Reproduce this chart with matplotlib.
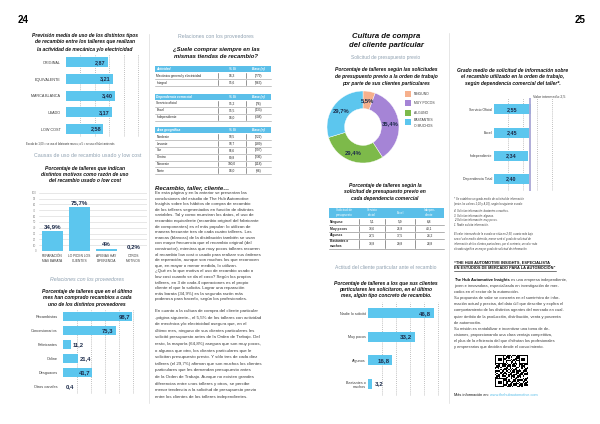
import matplotlib.pyplot as plt
import numpy as np
from matplotlib.patches import Rectangle

plt.rcParams["font.family"] = ["Liberation Sans", "DejaVu Sans"]

W, H = 600, 424
BLUE = "#5cc6ee"
NAVY = "#1c2b4a"
SUB = "#8fa1b1"
HEAD = "#5bbfe9"
TXT = "#3a3a3a"
GRID = "#9a9a9a"

# --- página 24: datos ---
tipos = ["ORIGINAL", "EQUIVALENTE", "MARCA BLANCA", "USADO", "LOW COST"]
tipos_media = [2.87, 3.21, 3.40, 3.17, 2.58]

motivos = ["REPARACIÓN\nMÁS BARATA", "LO PIDEN LOS\nCLIENTES",
           "APENAS HAY\nDIFERENCIA", "OTROS\nMOTIVOS"]
motivos_pct = [34.9, 75.7, 4.0, 0.2]

canales = ["Recambistas", "Concesionarios", "Fabricantes", "Online",
           "Desguaces", "Otros canales"]
canales_pct = [98.7, 75.3, 11.2, 21.4, 41.7, 0.4]

act_rows = ["Mecánica general y electricidad", "Integral"]
act_si = [94.3, 95.6]
act_n = [779, 363]
dep_rows = ["Servicio oficial", "Excel", "Independiente"]
dep_si = [95.2, 95.5, 94.0]
dep_n = [76, 433, 608]
area_rows = ["Nordeste", "Levante", "Sur", "Centro", "Noroeste", "Norte"]
area_si = [98.5, 93.7, 96.6, 89.8, 100.0, 94.0]
area_n = [222, 189, 297, 236, 118, 96]

# --- página 25: datos ---
solicitud = ["NINGUNO", "MUY POCOS", "ALGUNO", "BASTANTES\nO MUCHOS"]
solicitud_pct = [5.5, 35.4, 29.4, 29.7]
solicitud_col = ["#f6b08c", "#a584d6", "#7dba4a", BLUE]

tabla_cols = ["Solicitud de\npresupuesto", "Servicio\noficial", "Excel", "Indepen-\ndiente"]
tabla_rows = ["Ninguno", "Muy pocos", "Algunos", "Bastantes o\nmuchos"]
tabla_oficial = [5.1, 33.6, 27.5, 33.8]
tabla_excel = [5.9, 26.8, 37.5, 29.8]
tabla_indep = [6.8, 40.1, 24.2, 28.8]

actitud = ["Nadie lo solicitó", "Muy pocos", "Algunos", "Bastantes o\nmuchos"]
actitud_pct = [46.8, 33.2, 16.8, 3.2]

grado = ["Servicio Oficial", "Excel", "Independiente", "Dependencia Total"]
grado_media = [2.55, 2.45, 2.34, 2.40]
VALOR_MEDIO = 2.5

fig = plt.figure(figsize=(6, 4.24), dpi=100)
pg = fig.add_axes([0, 0, 1, 1])
pg.set_xlim(0, W)
pg.set_ylim(H, 0)
pg.axis("off")


def coma(v, dec=1):
    return f"{v:.{dec}f}".replace(".", ",")


def box_axes(x0, y0, x1, y1):
    ax = fig.add_axes([x0 / W, 1 - y1 / H, (x1 - x0) / W, (y1 - y0) / H])
    ax.patch.set_alpha(0)
    for s in ax.spines.values():
        s.set_visible(False)
    return ax


def lineas(x, y0, step, textos, **kw):
    kw.setdefault("va", "center")
    for i, s in enumerate(textos):
        pg.text(x, y0 + i * step, s, **kw)


def titulo(x, y0, step, textos, fs=3.6):
    lineas(x, y0, step, textos, ha="center", fontsize=fs,
           fontweight="bold", style="italic", color="#111")


def hbar(box, cats, vals, xmax, ticks, bar_h, pad, modo, dec=1,
         cat_fs=2.9, val_fs=4.2):
    ax = box_axes(*box)
    y = np.arange(len(cats))
    ax.barh(y, vals, height=bar_h, color=BLUE, zorder=3)
    ax.set_xlim(0, xmax)
    ax.set_ylim(len(cats) - 0.5, -0.5)
    for t in ticks:
        ax.axvline(t, color=GRID, lw=0.5, ls=(0, (1.2, 1.8)), zorder=1)
    ax.set_xticks([])
    ax.set_yticks(y, cats, fontsize=cat_fs, color=TXT)
    ax.tick_params(axis="y", length=0, pad=pad)
    for i, v in enumerate(vals):
        m = modo(v)
        kw = dict(textcoords="offset points", va="center", fontsize=val_fs,
                  fontweight="bold", color=NAVY, zorder=4)
        if m == "in":
            ax.annotate(coma(v, dec), (v, i), xytext=(-1.5, 0), ha="right", **kw)
        elif m == "out":
            ax.annotate(coma(v, dec), (v, i), xytext=(1.5, 0), ha="left", **kw)
        else:
            ax.annotate(coma(v, dec), (v / 2, i), xytext=(0, 0), ha="center", **kw)
    return ax


# ================= PÁGINA 24 =================
pg.text(18, 20, "24", fontsize=7, fontweight="bold", va="center")

titulo(85, 35, 7, ["Previsión media de uso de los distintos tipos",
                   "de recambio entre los talleres que realizan",
                   "la actividad de mecánica y/o electricidad"])
hbar((66, 54, 147, 137.4), tipos, tipos_media, 5.59, [1, 2, 3, 4, 5],
     0.6, 4, lambda v: "in", dec=2, cat_fs=2.7, val_fs=4.0)
pg.text(26, 144, "Escala de 1,00 = se usa el fabricante menos; a 5 = se usa el fabricante más",
        fontsize=1.9, color=TXT, va="center")

pg.text(88, 155, "Causas de uso de recambio usado y low cost", fontsize=3.8,
        color=SUB, ha="center", va="center")
titulo(85, 168.3, 6.2, ["Porcentaje de talleres que indican",
                        "distintos motivos como razón de uso",
                        "del recambio usado o low cost"])

ax2 = box_axes(39, 192.7, 147, 251)
xm = np.arange(len(motivos))
ax2.bar(xm, motivos_pct, width=0.78, color=BLUE, zorder=3)
ax2.set_xlim(-0.5, len(motivos) - 0.5)
ax2.set_ylim(0, 100)
ax2.set_yticks(range(0, 101, 10))
ax2.yaxis.grid(True, color="#d4d4d4", lw=0.4)
ax2.set_axisbelow(True)
ax2.tick_params(axis="y", length=0, pad=2, labelsize=2.0, labelcolor="#888")
ax2.set_xticks(xm, motivos, fontsize=2.3, color=TXT, linespacing=1.4)
ax2.tick_params(axis="x", length=0, pad=2)
for i, v in enumerate(motivos_pct):
    s = f"{v:.1f}".rstrip("0").rstrip(".").replace(".", ",") + "%"
    ax2.annotate(s, (i, v), xytext=(0, 1.2), textcoords="offset points",
                 ha="center", va="bottom", fontsize=4.4, fontweight="bold", color=NAVY)

pg.text(87, 280, "Relaciones con los proveedores", fontsize=3.8, color=SUB,
        style="italic", ha="center", va="center")
titulo(87, 291, 6.7, ["Porcentaje de talleres que en el último",
                      "mes han comprado recambios a cada",
                      "uno de los distintos proveedores"])
hbar((63, 309.7, 145, 393.7), canales, canales_pct, 117, [20, 40, 60, 80, 100],
     0.64, 4, lambda v: "in" if v > 30 else "out", cat_fs=2.8, val_fs=4.2)

# columna derecha pág. 24
pg.text(216, 36.7, "Relaciones con los proveedores", fontsize=3.8, color=SUB,
        ha="center", va="center")
titulo(216, 49, 7, ["¿Suele comprar siempre en las",
                    "mismas tiendas de recambio?"], fs=4.2)

cols24 = [155, 218, 246, 271]
RH = 6.8


def tabla24(y_head, cab, filas, si, base):
    for j, h in enumerate([cab, "% Sí", "Base (n)"]):
        pg.add_patch(Rectangle((cols24[j] + 0.4, y_head - RH / 2 + 0.4),
                               cols24[j + 1] - cols24[j] - 0.8, RH - 0.8,
                               color=HEAD, lw=0))
        x = cols24[j] + 1.5 if j == 0 else (cols24[j] + cols24[j + 1]) / 2
        pg.text(x, y_head, h, ha="left" if j == 0 else "center", va="center",
                color="white", fontsize=2.3, fontweight="bold", style="italic")
    for i, (f, s, b) in enumerate(zip(filas, si, base)):
        yc = y_head + (i + 1) * RH
        pg.text(cols24[0] + 1.5, yc, f, va="center", fontsize=2.3, color="#222")
        pg.text((cols24[1] + cols24[2]) / 2, yc, coma(s), ha="center",
                va="center", fontsize=2.3, color="#222")
        pg.text((cols24[2] + cols24[3]) / 2, yc, f"({b})", ha="center",
                va="center", fontsize=2.3, color="#222")
        pg.plot([cols24[0], cols24[-1]], [yc + RH / 2] * 2, color="#9a9a9a", lw=0.4)
        for c in cols24[1:3]:
            pg.plot([c, c], [yc - RH / 2 + 1, yc + RH / 2 - 1], color="#444", lw=0.4)


tabla24(69, "Actividad", act_rows, act_si, act_n)
tabla24(96.7, "Dependencia comercial", dep_rows, dep_si, dep_n)
tabla24(130, "Área geográfica", area_rows, area_si, area_n)

pg.text(155, 187.5, "Recambio, taller, cliente…", fontsize=4.3, fontweight="bold",
        style="italic", va="center", color="#111")
parrafo1 = [
    "En esta página y en la anterior se presentan las",
    "conclusiones del estudio de The Hub Automotive",
    "Insights sobre los hábitos de compra de recambio",
    "de los talleres segmentados en función de distintas",
    "variables. Tal y como muestran los datos, el uso de",
    "recambio equivalente (recambio original del fabricante",
    "de componentes) es el más popular: lo utilizan de",
    "manera frecuente tres de cada cuatro talleres. Las",
    "marcas (blancas) de la distribución también se usan",
    "con mayor frecuencia que el recambio original (del",
    "constructor), mientras que muy pocos talleres recurren",
    "al recambio low cost o usado para realizar sus órdenes",
    "de reparación, aunque son muchos los que reconocen",
    "que, en mayor o menor medida, lo utilizan.",
    "¿Qué es lo que motiva el uso de recambio usado o",
    "low cost cuando se da el caso? Según los propios",
    "talleres, en 3 de cada 4 operaciones es el propio",
    "cliente el que lo solicita. Lograr una reparación",
    "más barata (34,9%) es la segunda razón más",
    "poderosa para hacerlo, según los profesionales.",
]
parrafo2 = [
    "En cuanto a la cultura de compra del cliente particular",
    "-página siguiente-, el 5,5% de los talleres con actividad",
    "de mecánica y/o electricidad asegura que, en el",
    "último mes, ninguno de sus clientes particulares les",
    "solicitó presupuesto antes de la Orden de Trabajo. Del",
    "resto, la mayoría (64,8%) asegura que son muy pocos,",
    "o algunos que otro, los clientes particulares que le",
    "solicitan presupuesto previo. Y sólo tres de cada diez",
    "talleres (el 29,7%) afirman que son muchos los clientes",
    "particulares que les demandan presupuesto antes",
    "de la Orden de Trabajo. Aunque no existen grandes",
    "diferencias entre unos talleres y otros, se percibe",
    "menor tendencia a la solicitud de presupuesto previo",
    "entre los clientes de los talleres independientes.",
]
lineas(155, 193, 5.6, parrafo1, fontsize=3.2, color=TXT)
lineas(155, 311, 6.6, parrafo2, fontsize=3.2, color=TXT)

# ================= PÁGINA 25 =================
pg.text(580, 20, "25", fontsize=7, fontweight="bold", va="center", ha="center")
lineas(386, 37, 8.5, ["Cultura de compra", "del cliente particular"],
       ha="center", fontsize=5.6, fontweight="bold", style="italic", color="#111")
pg.text(386, 57.3, "Solicitud de presupuesto previo", fontsize=3.5, color=SUB,
        ha="center", va="center")
titulo(386, 70, 6.5, ["Porcentaje de talleres según las solicitudes",
                      "de presupuesto previo a la orden de trabajo",
                      "por parte de sus clientes particulares"])

axd = box_axes(323, 87, 403, 167)
wedges, _ = axd.pie(solicitud_pct, colors=solicitud_col, startangle=90,
                    counterclock=False, radius=0.9,
                    wedgeprops=dict(width=0.44, edgecolor="white", linewidth=0.3))
axd.set_xlim(-1, 1)
axd.set_ylim(-1, 1)
for w, v in zip(wedges, solicitud_pct):
    a = np.deg2rad((w.theta1 + w.theta2) / 2)
    axd.text(0.68 * np.cos(a), 0.68 * np.sin(a), coma(v) + "%", ha="center",
             va="center", fontsize=4.2, fontweight="bold", color=NAVY)
for i, (lab, c) in enumerate(zip(solicitud, solicitud_col)):
    yc = 94 + i * 9.3
    pg.add_patch(Rectangle((405, yc - 3), 6, 6, color=c, lw=0))
    pg.text(414, yc + (1.3 if "\n" in lab else 0), lab, fontsize=2.4,
            color=TXT, va="center", linespacing=1.5)

titulo(385, 185, 6.6, ["Porcentaje de talleres según la",
                       "solicitud de presupuesto previo en",
                       "cada dependencia comercial"])
cols25 = [329, 359, 385, 415, 444]
for j, h in enumerate(tabla_cols):
    pg.add_patch(Rectangle((cols25[j] + 0.4, 207.7), cols25[j + 1] - cols25[j] - 0.8,
                           10, color=HEAD, lw=0))
    pg.text((cols25[j] + cols25[j + 1]) / 2, 212.7, h, ha="center", va="center",
            fontsize=2.2, color="white", linespacing=1.3)
ytop = 218.3
for i, fila in enumerate(tabla_rows):
    rh = 10.4 if "\n" in fila else 6.8
    yc = ytop + rh / 2
    pg.text(cols25[0] + 1.2, yc, fila, va="center", fontsize=2.3,
            fontweight="bold", color="#222", linespacing=1.3)
    for j, v in enumerate([tabla_oficial[i], tabla_excel[i], tabla_indep[i]]):
        pg.text((cols25[j + 1] + cols25[j + 2]) / 2, yc, coma(v), ha="center",
                va="center", fontsize=2.3, color="#222")
    for c in cols25[1:4]:
        pg.plot([c, c], [ytop + 1, ytop + rh - 1], color="#444", lw=0.4)
    ytop += rh
    pg.plot([cols25[0], cols25[-1]], [ytop, ytop], color="#777", lw=0.4)

pg.text(386, 267.7, "Actitud del cliente particular ante el recambio", fontsize=3.6,
        color=SUB, ha="center", va="center")
titulo(386, 283.3, 6.2, ["Porcentaje de talleres a los que sus clientes",
                         "particulares les solicitaron, en el último",
                         "mes, algún tipo concreto de recambio."])
hbar((368, 301.5, 440, 395.8), actitud, actitud_pct, 51.4, [10, 20, 30, 40, 50],
     0.42, 1.5, lambda v: "in" if v > 10 else "out", cat_fs=2.7, val_fs=4.4)

# columna derecha pág. 25
titulo(513, 70, 6.7, ["Grado medio de solicitud de información sobre",
                      "el recambio utilizado en la orden de trabajo,",
                      "según dependencia comercial del taller*."])
ax5 = hbar((494, 97.7, 556, 190.6), grado, grado_media, 4.3, [1, 2, 3, 4],
           0.43, 1.5, lambda v: "mid", dec=2, cat_fs=2.5, val_fs=3.9)
ax5.axvline(VALOR_MEDIO, color="#a9a6d6", lw=1.3, zorder=5)
pg.text(533, 96.7, "Valor intermedio " + coma(VALOR_MEDIO, 1).rstrip("0").rstrip(","),
        fontsize=2.6, color=TXT, va="center")

nota = ["* Se establece un grado medio de solicitud de información",
        "(entre los valores 1,00 y 4,00), según la siguiente escala:"]
lineas(454, 199.3, 4.7, nota, fontsize=2.0, style="italic", color=TXT)
escala = ["4. Solicitan información: bastantes o muchos.",
          "3. Solicitan información: algunos.",
          "2. Solicitan información: muy pocos.",
          "1. Nadie solicita información."]
lineas(454, 211, 4.7, escala, fontsize=2.0, style="italic", color=TXT)
nota2 = ["El valor intermedio de la escala se sitúa en 2,50, cuanto más bajo",
         "sea el valor medio obtenido, menor será el grado de solicitud de",
         "información de los clientes particulares, por el contrario, un valor más",
         "elevado significa un mayor grado de solicitud de información."]
lineas(454, 234, 5.0, nota2, fontsize=2.0, style="italic", color=TXT)

fig.canvas.draw()
rend = fig.canvas.get_renderer()
inv = pg.transData.inverted()


def ancho(t):
    bb = t.get_window_extent(rend)
    (xa, _), (xb, _) = inv.transform([[bb.x0, bb.y0], [bb.x1, bb.y1]])
    return xa, xb


for k, s in enumerate(["“THE HUB AUTOMOTIVE INSIGHTS, ESPECIALISTA",
                       "EN ESTUDIOS DE MERCADO PARA LA AUTOMOCIÓN”"]):
    yy = 262.3 + k * 6
    t = pg.text(454, yy, s, fontsize=2.8, fontweight="bold", va="center", color="#111")
    xa, xb = ancho(t)
    pg.plot([xa, xb], [yy + 2.4] * 2, color="#111", lw=0.4)

cuerpo = ["es una empresa independiente,",
          "joven e innovadora, especializada en investigación de mer-",
          "cados en el sector de la automoción.",
          "Su propuesta de valor se concreta en el suministro de infor-",
          "mación actual y precisa, del dato útil que describe y explica el",
          "comportamiento de los distintos agentes del mercado en cual-",
          "quier ámbito de la producción, distribución, venta y posventa",
          "de automoción.",
          "Su misión es rentabilizar e incentivar una toma de de-",
          "cisiones, proporcionando una clara ventaja competitiva,",
          "el plus de la eficiencia del que disfrutan los profesionales",
          "y empresarios que deciden desde el conocimiento."]
tb = pg.text(454, 280, "The Hub Automotive Insights", fontsize=2.9, fontweight="bold",
             va="center", color="#111")
_, xb = ancho(tb)
pg.text(xb + 1, 280, cuerpo[0], fontsize=2.9, va="center", color=TXT)
lineas(454, 280 + 6.1, 6.1, cuerpo[1:], fontsize=2.9, color=TXT)

# código QR (decorativo, a partir de los bytes de la URL)
url = "www.thehubautomotive.com"
n = 25
bits = np.unpackbits(np.frombuffer((url * 4).encode(), dtype=np.uint8))[: n * n]
qr = bits.reshape(n, n).astype(float)
finder = np.ones((7, 7))
finder[1:6, 1:6] = 0
finder[2:5, 2:5] = 1
for r, c in [(0, 0), (0, n - 7), (n - 7, 0)]:
    qr[r:r + 7, c:c + 7] = finder
pg.imshow(qr, cmap="gray_r", extent=(495, 528, 387, 355), interpolation="nearest")

tm = pg.text(454, 395, "Más información en:", fontsize=2.8, va="center", color="#111")
_, xb = ancho(tm)
pg.text(xb + 1, 395, url, fontsize=2.8, va="center", color=HEAD)

# separadores de columna
pg.plot([149, 149], [34, 403], color="#dcdcdc", lw=0.5)
pg.plot([449, 449], [33, 403], color="#dcdcdc", lw=0.5)

pg.set_aspect("auto")
pg.set_xlim(0, W)
pg.set_ylim(H, 0)
fig.savefig("out.png", dpi=100, facecolor="white")
